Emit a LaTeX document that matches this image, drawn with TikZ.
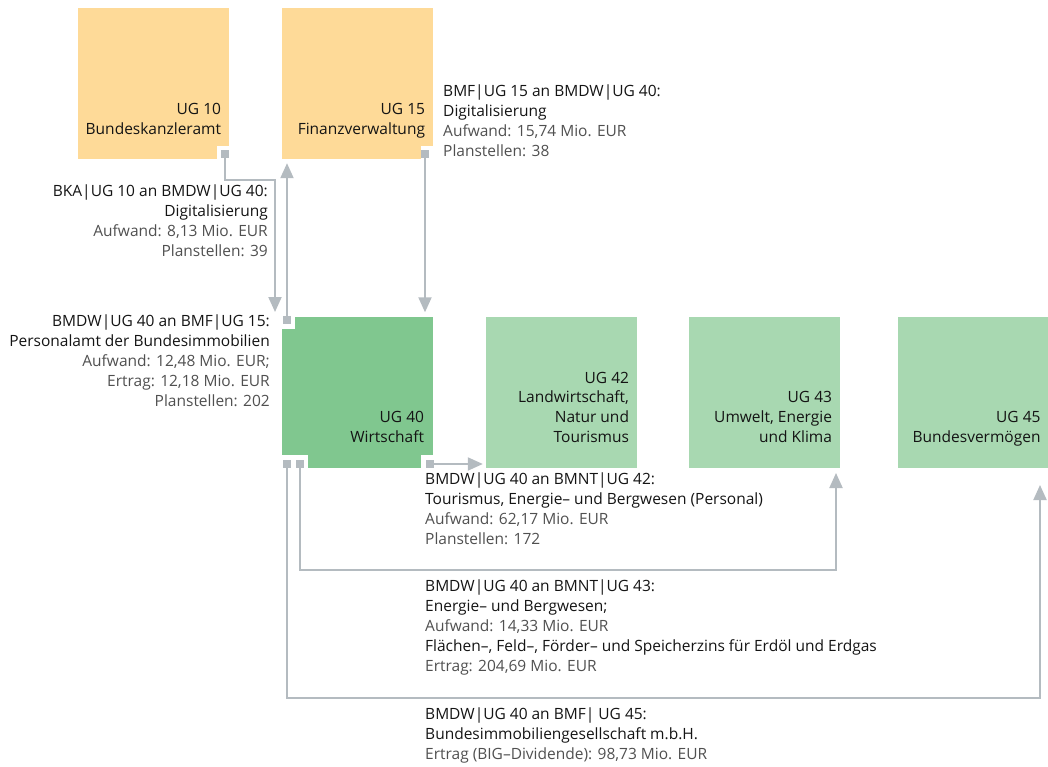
\documentclass[tikz,border=0pt]{standalone}
\usepackage{fontspec}
\setmainfont{Open Sans}
\usetikzlibrary{arrows.meta,positioning}
\definecolor{UGOrange}{RGB}{254,218,152}
\definecolor{UGGreen}{RGB}{128,199,143}
\definecolor{UGLight}{RGB}{168,216,177}
\definecolor{UGGray}{RGB}{180,187,192}
\definecolor{UGText}{RGB}{20,20,20}
\definecolor{UGSub}{RGB}{80,80,80}
\newcommand{\subline}[1]{\textcolor{UGSub}{#1}}
\tikzset{
  ugbox/.style={minimum width=151pt,minimum height=151pt,inner sep=0pt,draw=none},
  obox/.style={ugbox,fill=UGOrange},
  gbox/.style={ugbox,fill=UGGreen},
  lbox/.style={ugbox,fill=UGLight},
  ugname/.style={anchor=south east,align=right,inner sep=0pt,text=UGText},
  notch/.style={fill=white,inner sep=0pt,minimum size=12.5pt},
  port/.style={fill=UGGray,inner sep=0pt,minimum size=8pt},
  flow/.style={align=left,anchor=north west,inner sep=0pt,text=UGText},
  flowr/.style={align=right,anchor=north east,inner sep=0pt,text=UGText},
  arr/.style={-{Triangle[length=15pt,width=13pt]},UGGray,line width=2pt},
}
\begin{document}
\begin{tikzpicture}[x=1pt,y=-1pt,font=\fontsize{15.5}{19.8}\selectfont]
  \useasboundingbox (0,0) rectangle (1048,767);
  % boxes
  \node[obox] (ug10) at (153.5,83.5) {};
  \node[obox] (ug15) at (357.5,83.5) {};
  \node[gbox] (ug40) at (357.5,392) {};
  \node[lbox] (ug42) at (561.5,392) {};
  \node[lbox] (ug43) at (764.5,392) {};
  \node[lbox] (ug45) at (973,392) {};
  \node[ugname] (ug10n) at ([xshift=-8pt,yshift=19pt]ug10.south east) {UG 10\\Bundeskanzleramt\strut};
  \node[ugname] (ug15n) at ([xshift=-8pt,yshift=19pt]ug15.south east) {UG 15\\Finanzverwaltung\strut};
  \node[ugname] (ug40n) at ([xshift=-9pt,yshift=19pt]ug40.south east) {UG 40\\Wirtschaft\strut};
  \node[ugname] (ug42n) at ([xshift=-8pt,yshift=19pt]ug42.south east) {UG 42\\Landwirtschaft,\\Natur und\\Tourismus\strut};
  \node[ugname] (ug43n) at ([xshift=-8pt,yshift=19pt]ug43.south east) {UG 43\\Umwelt, Energie\\und Klima\strut};
  \node[ugname] (ug45n) at ([xshift=-8pt,yshift=19pt]ug45.south east) {UG 45\\Bundesvermögen\strut};
  % notches and ports
  \node[notch,anchor=south east] (n10) at (ug10.south east) {};
  \node[notch,anchor=south east] (n15) at (ug15.south east) {};
  \node[notch,anchor=north west] (n40a) at (ug40.north west) {};
  \node[notch,anchor=south west,minimum width=26pt] (n40b) at (ug40.south west) {};
  \node[notch,anchor=south east] (n40c) at (ug40.south east) {};
  \node[port] (p10) at (225,154) {};
  \node[port] (p15) at (425,154) {};
  \node[port] (p40a) at (287,320) {};
  \node[port] (p40b) at (287,464) {};
  \node[port] (p40d) at (300,464) {};
  \node[port] (p40c) at (430,464) {};
  % connectors
  \coordinate (in10) at (275,312);
  \coordinate (bend43) at (836,570);
  \coordinate (in43) at (836,473);
  \coordinate (bend45) at (1040,698);
  \coordinate (in45) at (1040,485);
  \draw[arr] (p10.south) -- ++(0,22) -| (in10);
  \draw[arr,shorten >=4pt] (p40a.north) -- (p40a.north |- ug15.south);
  \draw[arr,shorten >=4pt] (p15.south) -- (p15.south |- ug40.north);
  \draw[arr,shorten >=3pt] (p40c.east) -- (p40c.east -| ug42.west);
  \draw[arr] (p40d.south) |- (bend43) -- (in43);
  \draw[arr] (p40b.south) |- (bend45) -- (in45);
  % flow texts
  \node[flow] (t15) at (443,85) {BMF|UG 15 an BMDW|UG 40:\\Digitalisierung\\\subline{Aufwand: 15,74 Mio. EUR}\\\subline{Planstellen: 38}};
  \node[flowr] (t10) at (268,185) {BKA|UG 10 an BMDW|UG 40:\\Digitalisierung\\\subline{Aufwand: 8,13 Mio. EUR}\\\subline{Planstellen: 39}};
  \node[flowr] (t40) at (270,315) {BMDW|UG 40 an BMF|UG 15:\\Personalamt der Bundesimmobilien\\\subline{Aufwand: 12,48 Mio. EUR;}\\\subline{Ertrag: 12,18 Mio. EUR}\\\subline{Planstellen: 202}};
  \node[flow] (t42) at (425,473) {BMDW|UG 40 an BMNT|UG 42:\\Tourismus, Energie– und Bergwesen (Personal)\\\subline{Aufwand: 62,17 Mio. EUR}\\\subline{Planstellen: 172}};
  \node[flow] (t43) at (425,580) {BMDW|UG 40 an BMNT|UG 43:\\Energie– und Bergwesen;\\\subline{Aufwand: 14,33 Mio. EUR}\\Flächen–, Feld–, Förder– und Speicherzins für Erdöl und Erdgas\\\subline{Ertrag: 204,69 Mio. EUR}};
  \node[flow] (t45) at (425,708) {BMDW|UG 40 an BMF| UG 45:\\Bundesimmobiliengesellschaft m.b.H.\\\subline{Ertrag (BIG–Dividende): 98,73 Mio. EUR}};
\end{tikzpicture}
\end{document}
